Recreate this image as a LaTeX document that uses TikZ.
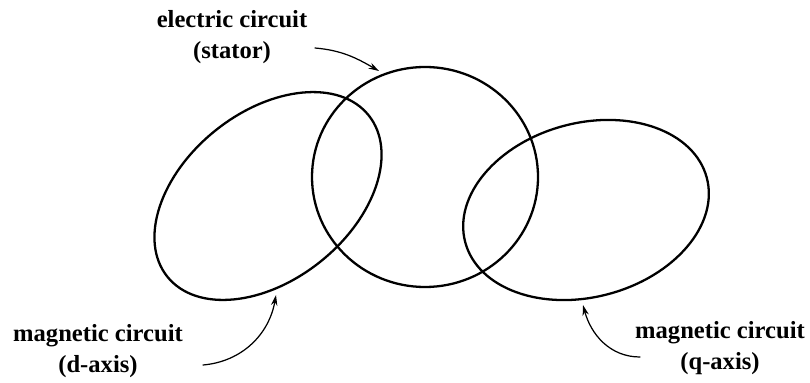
\documentclass[tikz,border=0pt]{standalone}
\usepackage{fontspec}
\setmainfont{Liberation Serif}
\usetikzlibrary{arrows.meta}

\begin{document}
\begin{tikzpicture}[
  x=0.02cm,
  y=0.02cm,
  line join=round,
  line cap=round,
  loop/.style={draw=black,line width=1.3pt},
  pointer/.style={draw=black,line width=0.7pt,-{Stealth[length=6pt,width=3.6pt]}},
  caption/.style={font=\bfseries\fontsize{14}{17.5}\selectfont,align=center,inner sep=0pt}
]
  \useasboundingbox (0,0) rectangle (810,382);

  % The three coupled circuits.
  \coordinate (dcentre) at (268,186);
  \coordinate (scentre) at (425,205);
  \coordinate (qcentre) at (586,172);
  \draw[loop,rotate around={38.7:(dcentre)}] (dcentre) ellipse [x radius=129,y radius=84];
  \draw[loop] (scentre) ellipse [x radius=113,y radius=110];
  \draw[loop,rotate around={15:(qcentre)}] (qcentre) ellipse [x radius=125,y radius=87];

  % Labels.
  \node[caption] (stator) at (232,345) {electric circuit\\(stator)};
  \node[caption] (daxis) at (98,31) {magnetic circuit\\(d-axis)};
  \node[caption] (qaxis) at (720,34) {magnetic circuit\\(q-axis)};

  % Pointers from the labels to the circuits.
  \coordinate (statortail) at (315,334);
  \coordinate (statortip) at (379,311);
  \coordinate (daxistail) at (203,17);
  \coordinate (daxistip) at (276,87);
  \coordinate (qaxistail) at (640,25);
  \coordinate (qaxistip) at (583,77);
  \draw[pointer] (statortail) to[out=-5,in=150] (statortip);
  \draw[pointer] (daxistail) to[out=5,in=-100] (daxistip);
  \draw[pointer] (qaxistail) to[out=180,in=-75] (qaxistip);
\end{tikzpicture}
\end{document}
